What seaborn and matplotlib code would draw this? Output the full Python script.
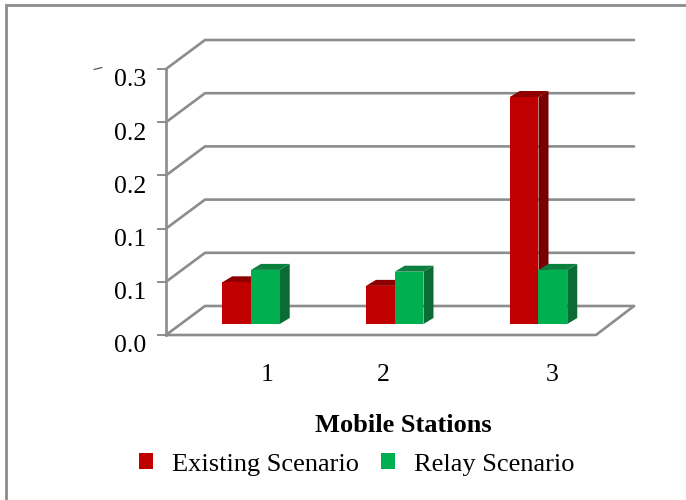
import matplotlib
matplotlib.use("Agg")
import matplotlib.pyplot as plt
import pandas as pd
import seaborn as sns
from matplotlib.lines import Line2D
from matplotlib.patches import Patch, Polygon
from matplotlib.ticker import FormatStrFormatter
from matplotlib.transforms import Affine2D, IdentityTransform

stations = ["1", "2", "3"]
existing = [0.047, 0.043, 0.256]
relay = [0.061, 0.059, 0.061]
scenario_names = ["Existing Scenario", "Relay Scenario"]
y_ticks = [0.0, 0.06, 0.12, 0.18, 0.24, 0.30]

FRONT = {"Existing Scenario": "#C00000", "Relay Scenario": "#00B050"}
SIDE = {"Existing Scenario": "#780000", "Relay Scenario": "#0A6B34"}
TOP = {"Existing Scenario": "#8E0000", "Relay Scenario": "#0B803F"}
GRID = "#8C8C8C"

W, H = 686, 500
sns.set_style("white")
plt.rcParams["font.family"] = ["Liberation Serif", "DejaVu Serif"]

df = pd.DataFrame({
    "station": stations * 2,
    "value": existing + relay,
    "scenario": [scenario_names[0]] * 3 + [scenario_names[1]] * 3,
})

fig = plt.figure(figsize=(W / 100, H / 100), dpi=100, facecolor="white")
left, right, top, bottom = 166, 596, 69, 335
ax = fig.add_axes([left / W, 1 - bottom / H, (right - left) / W, (bottom - top) / H])
ax.patch.set_alpha(0)

sns.barplot(data=df, x="station", y="value", hue="scenario", order=stations,
            hue_order=scenario_names, palette=FRONT, width=0.4, gap=0,
            saturation=1, legend=False, ax=ax)
ax.set_xlim(-0.591, 2.40)
ax.set_ylim(0, 0.30)


def to_px(x, y):
    return ax.transData.transform((x, y))


# Perspective wall and floor, offset in device pixels from the front plane
DEPTH_X, DEPTH_Y = 39, 30
for v in y_ticks:
    x0, y0 = to_px(ax.get_xlim()[0], v)
    x1, _ = to_px(ax.get_xlim()[1], v)
    ax.add_line(Line2D([x0, x0 + DEPTH_X, x1 + DEPTH_X - 1], [y0, y0 + DEPTH_Y - 1, y0 + DEPTH_Y - 1],
                       transform=IdentityTransform(), color=GRID, lw=1.9,
                       clip_on=False, zorder=1, solid_joinstyle="miter"))
x0, y0 = to_px(ax.get_xlim()[0], 0)
x1, _ = to_px(ax.get_xlim()[1], 0)
ax.add_line(Line2D([x0, x1, x1 + DEPTH_X - 1], [y0, y0, y0 + DEPTH_Y - 1],
                   transform=IdentityTransform(), color=GRID, lw=1.9,
                   clip_on=False, zorder=1))

# Raise bars off the front edge of the floor and give them a side and top face
LIFT, BAR_DX, BAR_DY = 11, 10, 6
lift = Affine2D().translate(0, LIFT)
bars = sorted(ax.patches, key=lambda p: p.get_x())
for k, bar in enumerate(bars):
    name = scenario_names[0] if k % 2 == 0 else scenario_names[1]
    bar.set_transform(ax.transData + lift)
    bar.set_zorder(4 + 2 * k)
    bar.set_linewidth(0)
    xa, ya = to_px(bar.get_x(), 0)
    xb, yb = to_px(bar.get_x() + bar.get_width(), bar.get_height())
    ya += LIFT
    yb += LIFT
    ax.add_patch(Polygon([(xb, ya), (xb + BAR_DX, ya + BAR_DY), (xb + BAR_DX, yb + BAR_DY), (xb, yb)],
                         transform=IdentityTransform(), facecolor=SIDE[name], lw=0,
                         clip_on=False, zorder=3 + 2 * k))
    ax.add_patch(Polygon([(xa, yb), (xa + BAR_DX, yb + BAR_DY), (xb + BAR_DX, yb + BAR_DY), (xb, yb)],
                         transform=IdentityTransform(), facecolor=TOP[name], lw=0,
                         clip_on=False, zorder=3 + 2 * k))

for side in ("top", "right", "bottom"):
    ax.spines[side].set_visible(False)
ax.spines["left"].set_color(GRID)
ax.spines["left"].set_linewidth(1.9)

ax.set_yticks(y_ticks)
ax.yaxis.set_major_formatter(FormatStrFormatter("%.1f"))
ax.tick_params(axis="y", left=True, length=6.5, width=1.4, color=GRID, pad=8, labelsize=18.5, labelcolor="black")
fig.canvas.draw()
for lab in ax.get_yticklabels():
    lab.set_transform(lab.get_transform() + Affine2D().translate(0, -9))
ax.set_ylabel("")

# Category labels sit unevenly under their groups
ax.set_xticks([])
for i, (lab, dx) in enumerate(zip(stations, (16, -11, 14))):
    ax.annotate(lab, xy=(i, 0), xycoords=("data", "axes fraction"),
                xytext=(dx, -40), textcoords="offset pixels",
                ha="center", va="center", fontsize=18.5, color="black")

ax.set_xlabel("Mobile Stations", fontsize=19, fontweight="bold", color="black", va="center")
ax.xaxis.set_label_coords((403 - left) / (right - left), -(426 - bottom) / (bottom - top))

handles = [Patch(facecolor=FRONT[n], edgecolor="none", label=n) for n in scenario_names]
fig.legend(handles=handles, loc="center", bbox_to_anchor=(357 / W, 1 - 464.5 / H),
           ncol=2, frameon=False, fontsize=19, handlelength=0.53, handleheight=0.53,
           handletextpad=0.72, columnspacing=0.83, labelcolor="black")

# Outer frame along the top and left edges, plus the stray mark by the axis
fig.add_artist(Line2D([6 / W, 6 / W, 1], [0, 1 - 5 / H, 1 - 5 / H], transform=fig.transFigure,
                      color=GRID, lw=2.0, solid_joinstyle="miter"))
fig.add_artist(Line2D([94 / W, 102 / W], [1 - 69.5 / H, 1 - 67.5 / H], transform=fig.transFigure,
                      color="#444444", lw=0.8))

fig.savefig("out.png", dpi=100, facecolor="white")
